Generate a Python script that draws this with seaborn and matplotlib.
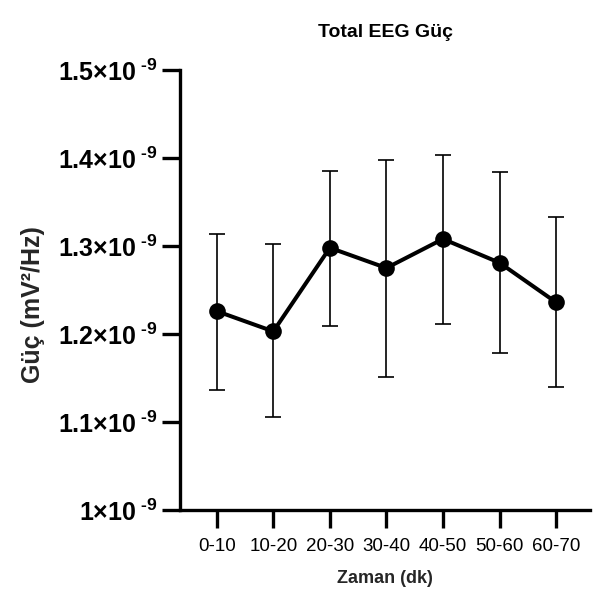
import numpy as np
import pandas as pd
import seaborn as sns
import matplotlib.pyplot as plt

# values (units of 1e-9 mV^2/Hz)
time_bins = ["0-10", "10-20", "20-30", "30-40", "40-50", "50-60", "60-70"]
mean_power = [1.226, 1.203, 1.298, 1.275, 1.308, 1.281, 1.236]
upper_err = [1.314, 1.302, 1.385, 1.398, 1.403, 1.384, 1.333]
lower_err = [1.136, 1.106, 1.209, 1.151, 1.211, 1.179, 1.140]

ytick_vals = [1.0, 1.1, 1.2, 1.3, 1.4, 1.5]
ytick_labels = [r"1×10$^{\text{ -9}}$", r"1.1×10$^{\text{ -9}}$", r"1.2×10$^{\text{ -9}}$",
                r"1.3×10$^{\text{ -9}}$", r"1.4×10$^{\text{ -9}}$", r"1.5×10$^{\text{ -9}}$"]

sns.set_style("ticks", {"axes.edgecolor": "black", "text.color": "black",
                        "xtick.color": "black", "ytick.color": "black"})
plt.rcParams["font.family"] = ["Liberation Sans", "DejaVu Sans"]
plt.rcParams["mathtext.fontset"] = "custom"
plt.rcParams["mathtext.rm"] = "Liberation Sans:bold"
plt.rcParams["mathtext.bf"] = "Liberation Sans:bold"

df = pd.DataFrame({"Zaman": time_bins, "Guc": mean_power})
yerr = np.array([np.array(mean_power) - np.array(lower_err),
                 np.array(upper_err) - np.array(mean_power)])

fig = plt.figure(figsize=(6.03, 5.98), dpi=100)
ax = fig.add_axes([0.2985, 0.147, 0.68, 0.736])

# error bars first, then the line + markers on top
x = np.arange(len(time_bins))
ax.errorbar(x, mean_power, yerr=yerr, fmt="none", ecolor="black",
            elinewidth=1.2, capsize=5.8, capthick=1.2, zorder=1)
sns.lineplot(data=df, x=x, y="Guc", color="black", linewidth=2.9,
             marker="o", markersize=12, markeredgewidth=0, ax=ax, zorder=2)

ax.set_xlim(-0.65, 6.6)
ax.set_ylim(1.0, 1.5)
ax.set_xticks(x)
ax.set_xticklabels(time_bins, fontsize=13.5)
ax.set_yticks(ytick_vals)
ax.set_yticklabels(ytick_labels, fontsize=18, fontweight="bold")

ax.set_title("Total EEG Güç", fontsize=14, fontweight="bold", pad=24)
ax.set_xlabel("Zaman (dk)", fontsize=13, fontweight="bold", labelpad=11)
ax.set_ylabel("Güç (mV²/Hz)", fontsize=18, fontweight="bold")
ax.yaxis.set_label_coords(-0.33, 0.466)

sns.despine(ax=ax)
for side in ["left", "bottom"]:
    ax.spines[side].set_linewidth(2.4)
ax.tick_params(axis="both", length=13, width=2.4, color="black", labelcolor="black")
ax.tick_params(axis="x", pad=7)
ax.tick_params(axis="y", pad=3.5)

plt.savefig("out.png", dpi=100)
